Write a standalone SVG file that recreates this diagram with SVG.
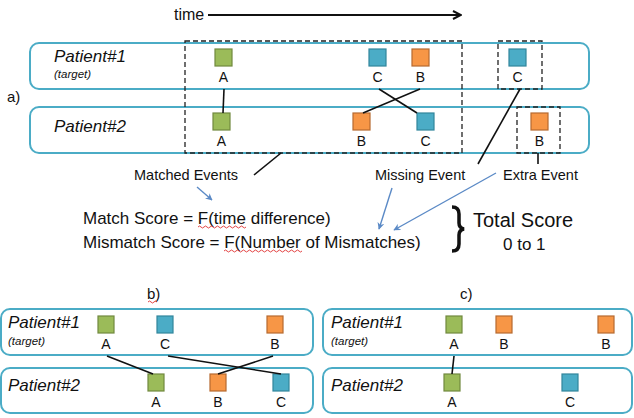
<svg xmlns="http://www.w3.org/2000/svg" width="634" height="418" viewBox="0 0 634 418">
<defs>
<style>
text{font-family:"Liberation Sans",Arial,sans-serif;fill:#111}
.box{fill:#fff;stroke:#4bacc6;stroke-width:2}
.pt{font-size:17px;font-style:italic}
.tg{font-size:11.5px;font-style:italic}
.lb{font-size:14px;text-anchor:middle}
.g{fill:#9bbb59;stroke:#71893f;stroke-width:1.2}
.b{fill:#4bacc6;stroke:#31859c;stroke-width:1.2}
.o{fill:#f79646;stroke:#b6692f;stroke-width:1.2}
.dash{fill:none;stroke:#222;stroke-width:1.3;stroke-dasharray:5 3}
.ln{stroke:#111;stroke-width:1.6;fill:none}
.bl{stroke:#5b8ac6;stroke-width:1.4;fill:none;marker-end:url(#ba)}
.sq{fill:none;stroke:#e03030;stroke-width:0.9}
.cap{font-size:14.5px}
.sc{font-size:17px}
</style>
<marker id="ba" viewBox="0 0 10 10" refX="9" refY="5" markerWidth="7" markerHeight="7" orient="auto" markerUnits="userSpaceOnUse">
<path d="M0,0 L10,5 L0,10 L3,5 Z" fill="#5b8ac6"/>
</marker>
<marker id="ka" viewBox="0 0 10 10" refX="9" refY="5" markerWidth="10" markerHeight="10" orient="auto" markerUnits="userSpaceOnUse">
<path d="M1,1 L9,5 L1,9" fill="none" stroke="#111" stroke-width="2"/>
</marker>
</defs>
<rect width="634" height="418" fill="#fff"/>

<!-- time axis -->
<g id="time">
<text x="174" y="20" font-size="16">time</text>
<line x1="208" y1="15" x2="461" y2="15" stroke="#111" stroke-width="2" marker-end="url(#ka)"/>
</g>

<text x="7" y="102" font-size="15">a)</text>
<text x="147" y="299" font-size="15">b)</text>
<text x="460" y="299" font-size="15">c)</text>

<!-- Part a -->
<g id="a-patient1">
<rect class="box" x="30" y="43" width="559" height="46" rx="9"/>
<text class="pt" x="54" y="62">Patient#1</text>
<text class="tg" x="54" y="78">(target)</text>
</g>
<g id="a-patient2">
<rect class="box" x="30" y="107" width="559" height="46" rx="9"/>
<text class="pt" x="54" y="132">Patient#2</text>
</g>

<g id="a-p1-A"><rect class="g" x="215" y="49" width="17" height="17"/><text class="lb" x="223.5" y="82">A</text></g>
<g id="a-p1-C"><rect class="b" x="369" y="49" width="17" height="17"/><text class="lb" x="377.5" y="82">C</text></g>
<g id="a-p1-B"><rect class="o" x="412" y="49" width="17" height="17"/><text class="lb" x="420.5" y="82">B</text></g>
<g id="a-p1-C2"><rect class="b" x="509" y="49" width="17" height="17"/><text class="lb" x="517.5" y="82">C</text></g>
<g id="a-p2-A"><rect class="g" x="213" y="113" width="17" height="17"/><text class="lb" x="221.5" y="146">A</text></g>
<g id="a-p2-B"><rect class="o" x="353" y="113" width="17" height="17"/><text class="lb" x="361.5" y="146">B</text></g>
<g id="a-p2-C"><rect class="b" x="417" y="113" width="17" height="17"/><text class="lb" x="425.5" y="146">C</text></g>
<g id="a-p2-B2"><rect class="o" x="531" y="113" width="17" height="17"/><text class="lb" x="539.5" y="146">B</text></g>

<g id="a-groups">
<rect class="dash" x="185" y="41" width="277" height="112"/>
<rect class="dash" x="498" y="41" width="44" height="48"/>
<rect class="dash" x="517" y="107" width="43" height="46"/>
</g>

<g id="a-text">
<text class="cap" x="134" y="180">Matched Events</text>
<text class="cap" x="375" y="180">Missing Event</text>
<text class="cap" x="503" y="180">Extra Event</text>
<text class="sc" x="83" y="224">Match Score = F(time difference)</text>
<text class="sc" x="83" y="248">Mismatch Score = F(Number of Mismatches)</text>
<path class="sq" d="M198,227 q1.5,-2 3,0 t3,0 t3,0 t3,0 t3,0 t3,0 t3,0 t3,0 t3,0 t3,0 t3,0 t3,0 t3,0 t3,0 t3,0 t3,0"/>
<path class="sq" d="M224,251 q1.5,-2 3,0 t3,0 t3,0 t3,0 t3,0 t3,0 t3,0 t3,0 t3,0 t3,0 t3,0 t3,0 t3,0 t3,0 t3,0 t3,0 t3,0 t3,0 t3,0 t3,0 t3,0 t3,0 t3,0 t3,0 t3,0 t3,0"/>
<path class="sq" d="M148,302 q1.5,-2 3,0 t3,0 t3,0"/>
<path d="M452,207 q7,0 7,7 v9 q0,5 5,6 q-5,1 -5,6 v9 q0,7 -7,7" fill="none" stroke="#111" stroke-width="3.5"/>
<text x="473" y="227" font-size="20">Total Score</text>
<text x="503" y="250" font-size="17">0 to 1</text>
</g>

<!-- Part b -->
<g id="b-patient1">
<rect class="box" x="1" y="309" width="312" height="46" rx="9"/>
<text class="pt" x="8" y="328">Patient#1</text>
<text class="tg" x="8" y="345">(target)</text>
</g>
<g id="b-patient2">
<rect class="box" x="1" y="368" width="312" height="45" rx="9"/>
<text class="pt" x="8" y="391">Patient#2</text>
</g>
<g id="b-p1-A"><rect class="g" x="98" y="316" width="16" height="17"/><text class="lb" x="106" y="349">A</text></g>
<g id="b-p1-C"><rect class="b" x="157" y="316" width="16" height="17"/><text class="lb" x="165" y="349">C</text></g>
<g id="b-p1-B"><rect class="o" x="267" y="316" width="16" height="17"/><text class="lb" x="275" y="349">B</text></g>
<g id="b-p2-A"><rect class="g" x="148" y="374" width="16" height="17"/><text class="lb" x="156" y="407">A</text></g>
<g id="b-p2-B"><rect class="o" x="210" y="374" width="16" height="17"/><text class="lb" x="218" y="407">B</text></g>
<g id="b-p2-C"><rect class="b" x="273" y="374" width="16" height="17"/><text class="lb" x="281" y="407">C</text></g>

<!-- Part c -->
<g id="c-patient1">
<rect class="box" x="323" y="309" width="309" height="46" rx="9"/>
<text class="pt" x="331" y="328">Patient#1</text>
<text class="tg" x="331" y="345">(target)</text>
</g>
<g id="c-patient2">
<rect class="box" x="323" y="368" width="309" height="45" rx="9"/>
<text class="pt" x="331" y="391">Patient#2</text>
</g>
<g id="c-p1-A"><rect class="g" x="446" y="316" width="16" height="17"/><text class="lb" x="454" y="349">A</text></g>
<g id="c-p1-B"><rect class="o" x="496" y="316" width="16" height="17"/><text class="lb" x="504" y="349">B</text></g>
<g id="c-p1-B2"><rect class="o" x="598" y="316" width="16" height="17"/><text class="lb" x="606" y="349">B</text></g>
<g id="c-p2-A"><rect class="g" x="444" y="374" width="16" height="17"/><text class="lb" x="452" y="407">A</text></g>
<g id="c-p2-C"><rect class="b" x="562" y="374" width="16" height="17"/><text class="lb" x="570" y="407">C</text></g>

<g id="connectors">
<line class="ln" x1="224" y1="89" x2="223" y2="113"/>
<line class="ln" x1="379" y1="89" x2="417" y2="113"/>
<line class="ln" x1="420" y1="89" x2="363" y2="113"/>
<line class="ln" x1="254" y1="175" x2="281" y2="153"/>
<line class="ln" x1="520" y1="89" x2="478" y2="164"/>
<line class="ln" x1="538" y1="153" x2="538" y2="164"/>
<line class="bl" x1="197" y1="187" x2="212" y2="200"/>
<line class="bl" x1="392" y1="188" x2="379" y2="229"/>
<line class="bl" x1="496" y1="173" x2="394" y2="230"/>
<line class="ln" x1="107" y1="356" x2="153" y2="374"/>
<line class="ln" x1="168" y1="356" x2="281" y2="374"/>
<line class="ln" x1="273" y1="356" x2="218" y2="374"/>
<line class="ln" x1="454" y1="356" x2="452" y2="374"/>
</g>
</svg>
